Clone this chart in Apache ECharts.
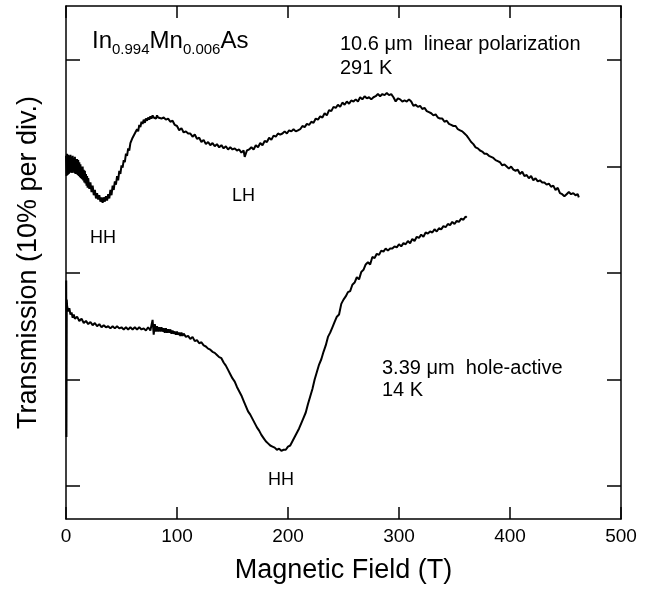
<!DOCTYPE html>
<html>
<head>
<meta charset="utf-8">
<script src="https://cdn.jsdelivr.net/npm/echarts@6/dist/echarts.min.js"></script>
<style>html,body{margin:0;padding:0;background:#fff}#c{width:660px;height:590px}</style>
</head>
<body>
<div id="c"></div>
<script>
// ---- data (transmission in %, 10% per division; offsets arbitrary) ----
const xTicks = [0, 100, 200, 300, 400, 500];
const yTicks = [0, 10, 20, 30, 40];

// 10.6 um, linear polarization, 291 K
const hotField = [0,0.5,1,1.5,2,2.5,3,3.5,4,4.5,5,5.5,6,6.5,7,7.5,8,8.5,9,9.5,10,10.5,11,11.5,12,12.5,13,13.5,14,14.5,15,15.5,16,16.5,17,17.5,18,18.5,19,19.5,
20,21,22,23,24,25,26,27,28,29,30,31,32,33,34,35,36,37,38,39,40,41,42,43,44,45,46,47,48,49,50,51,52,53,54,55,56,57,58,59,60,61,62,63,64,65,66,67,68,69,70,71,72,73,74,75,76,77,78,79,80,81,82,83,
84,86,88,90,92,94,96,98,100,102,104,106,108,110,112,114,116,118,120,122,124,126,128,130,132,134,136,138,140,142,144,146,148,150,152,154,156,158,160,161,163,165,167,169,171,173,175,177,179,181,183,185,187,189,191,193,195,197,199,201,203,205,207,209,211,213,215,217,219,221,223,225,227,229,231,233,235,237,239,241,243,245,247,249,251,253,255,257,259,261,263,265,267,269,271,273,275,277,279,281,283,285,287,289,291,293,295,297,299,301,303,305,307,309,311,313,315,317,319,321,323,325,327,329,331,333,335,337,339,341,343,345,347,349,351,353,355,357,359,361,363,365,367,369,371,373,375,377,379,381,383,385,387,389,391,393,395,397,399,401,403,405,407,409,411,413,415,417,419,421,423,425,427,429,431,433,435,437,439,441,443,445,447,449,451,453,455,457,459,461,462];
const hotTrans = [31.0,29.1,31.2,29.2,31.1,29.3,31.0,29.4,31.1,29.5,30.9,29.4,31.0,29.5,30.8,29.4,30.9,29.3,30.7,29.3,30.7,29.2,30.6,29.1,30.4,29.0,30.2,28.9,30.0,28.8,30.0,28.7,29.7,28.5,29.6,28.4,29.3,28.2,29.1,28.0,
28.9,27.9,28.5,27.6,28.2,27.3,27.8,27.0,27.5,26.9,27.3,26.7,27.1,26.6,27.1,26.7,27.2,26.8,27.4,27.0,27.8,27.3,28.2,27.8,28.6,28.3,29.1,28.7,29.6,29.3,30.1,29.9,30.6,30.4,31.2,31.0,31.7,31.5,32.2,32.1,32.7,32.6,33.1,33.1,33.5,33.3,33.9,33.7,34.2,34.0,34.4,34.1,34.5,34.3,34.6,34.4,34.7,34.5,34.8,34.6,34.7,34.5,34.8,34.6,
34.7,34.5,34.6,34.4,34.5,34.2,34.3,33.9,33.8,33.4,33.6,33.2,33.3,33.1,33.1,32.8,33.0,32.6,32.7,32.3,32.5,32.1,32.3,32.0,32.2,31.9,32.1,31.8,32.0,31.7,31.9,31.6,31.8,31.6,31.7,31.5,31.6,31.3,31.5,30.9,31.5,31.6,31.8,31.6,32.0,31.8,32.2,32.0,32.4,32.3,32.7,32.5,32.9,32.8,33.1,33.0,33.1,33.3,33.1,33.4,33.3,33.5,33.3,33.4,33.5,33.8,33.7,34.0,33.9,34.2,34.1,34.5,34.4,34.7,34.6,35.0,34.8,35.3,35.2,35.6,35.5,35.8,35.6,36.0,35.8,36.1,35.9,36.2,36.1,36.3,36.1,36.5,36.3,36.6,36.4,36.5,36.3,36.5,36.6,36.8,36.6,36.8,36.7,36.9,36.7,36.8,36.5,36.1,36.4,36.3,36.1,36.2,36.1,36.3,36.1,35.7,35.8,35.6,35.7,35.4,35.5,35.2,35.1,35.0,34.8,34.9,34.6,34.5,34.5,34.2,34.3,34.0,33.9,33.8,33.8,33.5,33.4,33.3,33.1,32.9,32.6,32.3,32.1,31.8,31.7,31.5,31.4,31.2,31.2,31.0,30.9,30.8,30.6,30.5,30.4,30.1,30.2,30.0,29.8,30.0,29.7,29.6,29.7,29.3,29.5,29.1,29.2,28.9,29.1,28.7,28.9,28.6,28.7,28.5,28.5,28.3,28.4,28.1,28.2,27.8,28.0,27.5,27.4,27.2,27.4,27.6,27.4,27.5,27.3,27.4,27.1];

// 3.39 um, hole-active, 14 K
const coldField = [0.2,0.4,0.7,1,2,3,4,5,6,7,8,10,12,14,16,18,20,22,24,26,28,30,32,34,36,38,40,42,44,46,48,50,52,54,56,58,60,62,64,66,68,70,72,74,76,
78,79,80,81,82,83,84,85,86,87,88,89,90,91,92,93,94,95,96,97,98,99,100,101,102,103,104,105,106,108,110,112,114,116,118,120,122,124,126,128,130,132,134,136,138,140,142,144,146,148,150,152,154,156,158,160,162,164,166,168,170,172,174,176,178,180,182,184,186,188,190,192,194,196,198,200,202,204,206,208,210,212,214,216,218,220,222,224,226,228,230,232,234,236,238,240,242,244,246,248,250,252,254,256,258,260,262,264,266,268,270,272,274,276,278,280,282,284,286,288,290,292,294,296,298,300,302,304,306,308,310,312,314,316,318,320,322,324,326,328,330,332,334,336,338,340,342,344,346,348,350,352,354,356,358,360,361];
const coldTrans = [19.3,4.6,17.5,16.9,16.4,16.7,16.1,16.3,15.8,16.1,15.7,15.9,15.5,15.7,15.3,15.5,15.2,15.4,15.1,15.3,15.0,15.2,14.9,15.1,14.9,15.0,14.8,15.0,14.8,15.0,14.8,14.9,14.7,14.9,14.7,14.9,14.7,14.9,14.7,14.9,14.7,14.8,14.6,14.9,14.6,
15.6,14.2,15.2,14.5,15.0,14.5,14.9,14.5,14.9,14.5,14.8,14.4,14.8,14.4,14.7,14.4,14.7,14.3,14.6,14.3,14.5,14.2,14.5,14.2,14.4,14.1,14.4,14.1,14.3,14.0,14.1,13.8,14.0,13.6,13.7,13.4,13.5,13.2,13.1,12.9,12.8,12.6,12.5,12.3,12.1,12.0,11.6,11.3,10.9,10.5,10.1,9.8,9.3,8.9,8.5,8.0,7.5,7.0,6.7,6.3,5.9,5.5,5.2,4.8,4.5,4.2,4.0,3.8,3.7,3.6,3.4,3.5,3.3,3.4,3.4,3.7,3.8,4.2,4.6,5.0,5.4,5.9,6.4,6.9,7.7,8.4,9.1,10.0,10.7,11.4,11.9,12.6,13.2,14.0,14.4,14.9,15.4,15.9,16.1,17.1,17.5,17.8,18.2,18.3,18.9,19.1,19.6,19.4,20.1,20.3,20.8,21.0,20.8,21.5,21.4,21.8,21.7,22.1,22.0,22.3,22.1,22.3,22.3,22.5,22.4,22.7,22.5,22.8,22.7,23.0,22.8,23.2,23.0,23.4,23.3,23.6,23.4,23.8,23.7,23.9,23.8,24.1,23.9,24.2,24.1,24.4,24.3,24.6,24.5,24.8,24.6,24.9,24.8,25.1,25.0,25.3,25.2];

const FONT = "'Liberation Sans', Arial, Helvetica, sans-serif";
const pair = (xs, ys) => xs.map((x, i) => [x, ys[i]]);

const chart = echarts.init(document.getElementById('c'), null, {renderer: 'canvas'});
const lineAxis = {show: true, onZero: false, lineStyle: {color: '#000', width: 1.5}};
const tickX = {show: true, inside: true, length: 12, lineStyle: {color: '#000', width: 1.5}};
const tickY = {show: true, inside: true, length: 14, customValues: yTicks, lineStyle: {color: '#000', width: 1.5}};
const option = {
  animation: false,
  backgroundColor: '#fff',
  grid: {left: 66, right: 39, top: 6, bottom: 71, containLabel: false},
  xAxis: [{
    type: 'value', min: 0, max: 500, interval: 100, position: 'bottom',
    axisLine: lineAxis, axisTick: tickX,
    axisLabel: {color: '#000', fontSize: 19, fontFamily: FONT, margin: 8},
    splitLine: {show: false},
    name: 'Magnetic Field (T)', nameLocation: 'middle', nameGap: 38,
    nameTextStyle: {color: '#000', fontSize: 27, fontFamily: FONT}
  }, {
    type: 'value', min: 0, max: 500, interval: 100, position: 'top',
    axisLine: lineAxis, axisTick: tickX,
    axisLabel: {show: false}, splitLine: {show: false}
  }],
  yAxis: [{
    type: 'value', min: -3.1, max: 45.07, position: 'left',
    axisLine: lineAxis, axisTick: tickY,
    axisLabel: {show: false}, splitLine: {show: false},
    name: 'Transmission (10% per div.)', nameLocation: 'middle', nameGap: 24, nameRotate: 90,
    nameTextStyle: {color: '#000', fontSize: 27, fontFamily: FONT}
  }, {
    type: 'value', min: -3.1, max: 45.07, position: 'right',
    axisLine: lineAxis, axisTick: tickY,
    axisLabel: {show: false}, splitLine: {show: false}
  }],
  series: [{
    type: 'line', xAxisIndex: 0, yAxisIndex: 0, data: pair(hotField, hotTrans),
    showSymbol: false, symbol: 'none', lineStyle: {color: '#000', width: 2}, silent: true
  }, {
    type: 'line', xAxisIndex: 0, yAxisIndex: 0, data: pair(coldField, coldTrans),
    showSymbol: false, symbol: 'none', lineStyle: {color: '#000', width: 2}, silent: true
  }],
  graphic: [
    {type: 'text', left: 92, top: 29, style: {
      text: '{m|In}{s|0.994}{m|Mn}{s|0.006}{m|As}',
      rich: {
        m: {fontSize: 24, fontFamily: FONT, fill: '#000', verticalAlign: 'bottom', padding: [0, 0, 4, 0]},
        s: {fontSize: 15, fontFamily: FONT, fill: '#000', verticalAlign: 'bottom'}
      }}},
    {type: 'text', left: 340, top: 34, style: {text: '10.6 \u03bcm  linear polarization', font: '20px ' + FONT, fill: '#000'}},
    {type: 'text', left: 340, top: 58, style: {text: '291 K', font: '20px ' + FONT, fill: '#000'}},
    {type: 'text', left: 382, top: 358, style: {text: '3.39 \u03bcm  hole-active', font: '20px ' + FONT, fill: '#000'}},
    {type: 'text', left: 382, top: 380, style: {text: '14 K', font: '20px ' + FONT, fill: '#000'}},
    {type: 'text', left: 232, top: 187, style: {text: 'LH', font: '18px ' + FONT, fill: '#000'}},
    {type: 'text', left: 90, top: 229, style: {text: 'HH', font: '18px ' + FONT, fill: '#000'}},
    {type: 'text', left: 268, top: 471, style: {text: 'HH', font: '18px ' + FONT, fill: '#000'}}
  ]
};
chart.setOption(option);
</script>
</body>
</html>
